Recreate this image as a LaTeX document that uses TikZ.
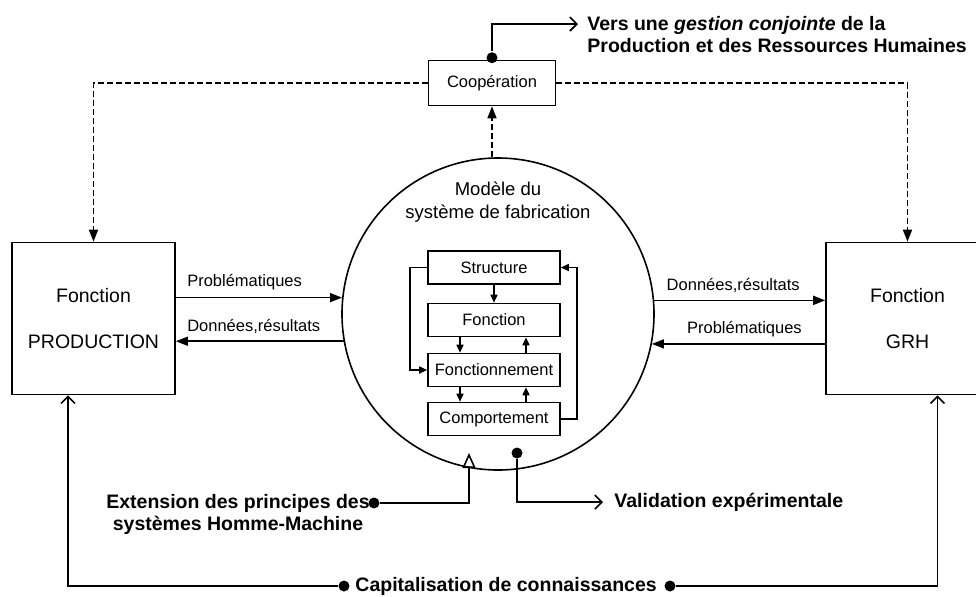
\documentclass[tikz,border=0pt]{standalone}
\usepackage{fontspec}
\setmainfont{Liberation Sans}
\usetikzlibrary{arrows.meta,positioning}

\begin{document}
\begin{tikzpicture}[x=0.5pt,y=-0.5pt,font=\fontsize{8.25}{10}\selectfont,line width=0.8pt,
  fonc/.style={draw,minimum width=81.5pt,minimum height=76pt,align=center,font=\fontsize{9.75}{12}\selectfont},
  sub/.style={draw,minimum width=66pt,minimum height=16.5pt,inner sep=1pt},
  lab/.style={font=\fontsize{9.75}{11}\selectfont\bfseries},
  tri/.style={-{Triangle[length=6pt,width=4.5pt]}},
  pt/.style={-{Triangle[length=4pt,width=3.5pt]}},
  barb/.style={-{Straight Barb[length=3.5pt,width=7pt]}},
  dot/.style={circle,fill,inner sep=0pt,minimum size=5.5pt}]
  \path[use as bounding box,clip] (0,0) rectangle (976,596);
  \node[fonc] (prod) at (93.5,318.5) {Fonction\\[11pt]PRODUCTION};
  \node[fonc] (grh) at (907.5,318.5) {Fonction\\[11pt]GRH};
  \node[draw,circle,minimum size=156pt,inner sep=0pt] (mod) at (498,314) {};
  \node[align=center,font=\fontsize{9.25}{11.5}\selectfont] (modt) at (498,202) {Modèle du\\système de fabrication};
  \node[sub] (st) at (494,267.5) {Structure};
  \node[sub] (fn) at (494,320) {Fonction};
  \node[sub] (fm) at (494,370) {Fonctionnement};
  \node[sub] (cp) at (494,419) {Comportement};
  \draw[pt] (st) -- (fn);
  \foreach \a/\b in {fn/fm,fm/cp}{
    \draw[pt] ([xshift=-17pt]\a.south) -- ([xshift=-17pt]\b.north);
    \draw[pt] ([xshift=16pt]\b.north) -- ([xshift=16pt]\a.south);}
  \draw[pt] (st.west) -- ++(-17,0) |- (fm.west);
  \draw[pt] (cp.east) -- ++(16,0) |- (st.east);
  \draw[tri] (prod.east |- mod.174.1) -- (mod.174.1) node[pos=0,anchor=south west,xshift=2pt] {Problématiques};
  \draw[tri] (mod.190.3) -- (prod.east |- mod.190.3) node[pos=1,anchor=south west,xshift=2pt] {Données,résultats};
  \draw[tri] (mod.5.7) -- (grh.west |- mod.5.7) node[pos=1,anchor=south east,xshift=-9pt] {Données,résultats};
  \draw[tri] (grh.west |- mod.349.7) -- (mod.349.7) node[pos=0,anchor=south east,xshift=-8pt] {Problématiques};
  \node[draw,minimum width=63.5pt,minimum height=22.5pt] (coop) at (492,83) {Coopération};
  \draw[tri,dash pattern=on 3pt off 1.5pt] (coop.west) -| (prod.north);
  \draw[tri,dash pattern=on 3pt off 1.5pt] (coop.east) -| (grh.north);
  \draw[tri,dash pattern=on 3pt off 1.5pt] (mod.north -| coop.south) -- (coop.south);
  \node[dot] (cdot) at ([yshift=1pt]coop.north) {};
  \coordinate (vin) at (578,24);
  \draw[barb] (cdot) |- (vin);
  \node[lab,anchor=north west,align=left] (vers) at (580,9) {Vers une \textit{gestion conjointe} de la\\Production et des Ressources Humaines};
  \node[lab,align=center] (ext) at (238,514) {Extension des principes des\\systèmes Homme-Machine};
  \node[dot] (edot) at (374,503) {};
  \coordinate (ein) at (469,453);
  \draw[-{Triangle[open,length=7.5pt,width=6.5pt]}] (edot) -| (ein);
  \node[dot] (vdot) at (517,453) {};
  \coordinate (vout) at (603,502);
  \draw[barb] (vdot) |- (vout);
  \node[lab,anchor=west] (val) at (607,502) {Validation expérimentale};
  \node[lab,anchor=west] (cap) at (348,586) {Capitalisation de connaissances};
  \node[dot] (cdl) at (344,586) {};
  \node[dot] (cdr) at (670,586) {};
  \draw[barb] (cdl) -| ([xshift=-12.75pt]prod.south);
  \draw[barb] (cdr) -| ([xshift=15pt]grh.south);
\end{tikzpicture}
\end{document}
